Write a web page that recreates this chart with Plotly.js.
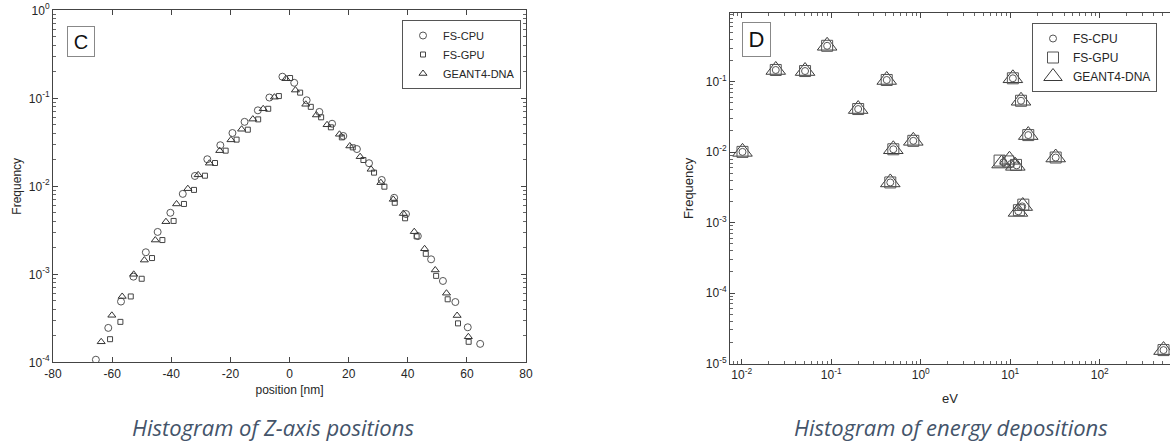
<!DOCTYPE html>
<html>
<head>
<meta charset="utf-8">
<script src="https://cdn.plot.ly/plotly-3.0.1.min.js"></script>
<style>
  html, body { margin: 0; padding: 0; background: #fff; }
  #chart { width: 1170px; height: 444px; }
</style>
</head>
<body>
<div id="chart"></div>
<script>
// ---- Panel C: histogram of Z-axis positions (nm) ----
const posCpu = [-65.5, -61.3, -57.0, -52.8, -48.6, -44.6, -40.3, -36.1, -32.0, -27.8, -23.4, -19.3, -15.2, -10.7, -6.8, -2.4,
                1.6, 5.8, 10.1, 14.4, 18.2, 22.8, 26.9, 31.2, 35.4, 39.4, 43.4, 47.9, 51.9, 56.1, 60.3, 64.5];
const freqPosCpu = [1.07e-4, 2.46e-4, 4.9e-4, 9.4e-4, 1.78e-3, 3.03e-3, 5.0e-3, 8.2e-3, 1.31e-2, 2.03e-2, 2.93e-2, 4.03e-2, 5.4e-2, 7.3e-2, 0.102, 0.176,
                    0.150, 0.095, 0.070, 0.0514, 0.0373, 0.0265, 0.0183, 0.0118, 7.4e-3, 4.84e-3, 2.72e-3, 1.48e-3, 8.4e-4, 4.84e-4, 2.5e-4, 1.62e-4];

const posGpu = [-60.7, -57.2, -53.7, -50.0, -46.5, -43.0, -39.2, -35.7, -32.3, -28.6, -25.2, -21.6, -17.9, -14.1, -10.6, -7.2, -3.6, 0.2,
                3.6, 7.2, 10.7, 14.0, 17.7, 21.4, 25.0, 28.6, 32.1, 35.6, 39.1, 43.0, 46.1, 49.6, 53.5, 57.0, 60.6];
const freqPosGpu = [1.83e-4, 2.88e-4, 5.6e-4, 8.9e-4, 1.53e-3, 2.45e-3, 4.04e-3, 6.3e-3, 9.1e-3, 1.32e-2, 1.84e-2, 2.54e-2, 3.39e-2, 4.4e-2, 5.76e-2, 7.6e-2, 0.106, 0.170,
                    0.116, 0.080, 0.0608, 0.0468, 0.036, 0.0277, 0.0199, 0.0143, 0.0099, 6.5e-3, 4.33e-3, 2.7e-3, 1.71e-3, 9.6e-4, 5.2e-4, 2.77e-4, 1.71e-4];

const posG4 = [-63.7, -60.1, -56.6, -52.7, -49.1, -45.4, -41.8, -38.2, -34.4, -30.9, -27.1, -23.6, -19.8, -16.2, -12.4, -8.9, -5.1, -1.2,
               2.0, 5.5, 9.1, 12.7, 16.9, 20.4, 23.9, 27.6, 30.9, 35.1, 38.5, 42.2, 45.7, 49.3, 53.1, 56.7, 60.5];
const freqPosG4 = [1.71e-4, 3.42e-4, 5.6e-4, 1.0e-3, 1.45e-3, 2.45e-3, 3.96e-3, 6.3e-3, 9.4e-3, 1.35e-2, 1.83e-2, 2.54e-2, 3.37e-2, 4.45e-2, 5.8e-2, 7.6e-2, 0.103, 0.167,
                   0.124, 0.0855, 0.0646, 0.050, 0.039, 0.0287, 0.0217, 0.0156, 0.011, 7.1e-3, 4.9e-3, 3.05e-3, 1.95e-3, 1.12e-3, 6.1e-4, 3.4e-4, 1.95e-4];

// ---- Panel D: histogram of energy depositions (eV) ----
const eVCpu = [0.0102, 0.024, 0.051, 0.090, 0.20, 0.417, 0.494, 0.457, 0.826, 8.4, 10.2, 11.8, 10.7, 12.3, 13.6, 13.2, 15.9, 32.2, 516];
const freqECpu = [0.0101, 0.147, 0.142, 0.324, 0.041, 0.106, 0.011, 3.72e-3, 0.0145, 7.2e-3, 6.8e-3, 6.5e-3, 0.112, 1.45e-3, 1.70e-3, 0.0537, 0.0175, 8.4e-3, 1.55e-5];

const eVGpu = [0.0102, 0.024, 0.051, 0.090, 0.20, 0.417, 0.494, 0.457, 0.826, 7.6, 9.5, 11.6, 10.7, 12.5, 14.0, 13.2, 15.9, 32.2, 516];
const freqEGpu = [0.0101, 0.147, 0.142, 0.324, 0.041, 0.106, 0.011, 3.72e-3, 0.0145, 7.6e-3, 7.4e-3, 6.6e-3, 0.112, 1.50e-3, 1.80e-3, 0.0537, 0.0175, 8.4e-3, 1.55e-5];

const eVG4 = [0.0102, 0.024, 0.051, 0.090, 0.20, 0.417, 0.494, 0.457, 0.826, 8.0, 9.8, 11.4, 10.7, 12.2, 13.8, 13.2, 15.9, 32.2, 516];
const freqEG4 = [0.0101, 0.147, 0.142, 0.324, 0.041, 0.106, 0.011, 3.72e-3, 0.0145, 6.9e-3, 7.8e-3, 6.4e-3, 0.112, 1.42e-3, 1.72e-3, 0.0537, 0.0175, 8.4e-3, 1.55e-5];

const seriesNames = ['FS-CPU', 'FS-GPU', 'GEANT4-DNA'];
const posTicks = [-80, -60, -40, -20, 0, 20, 40, 60, 80];
const freqTicksC = [1, 0.1, 0.01, 0.001, 0.0001];
const freqTicksD = [0.1, 0.01, 0.001, 0.0001, 0.00001];
const eVTicks = [0.01, 0.1, 1, 10, 100];

// label as 10^n with an ordinary hyphen for the sign
function powLabel(v) {
  const e = Math.round(Math.log10(v));
  return '10<sup>' + String(e) + '</sup>';
}
// minor tick positions 2..9 x 10^k for a span of decades
function minorLog(kMin, kMax) {
  const out = [];
  for (let k = kMin; k <= kMax; k++) {
    for (let m = 2; m <= 9; m++) out.push(m * Math.pow(10, k));
  }
  return out;
}

const sans = '"Liberation Sans", Arial, Helvetica, sans-serif';
const axisFont = { family: sans, size: 12, color: '#262626' };

function mk(x, y, name, symbol, size, color, xa, ya, legend, show) {
  return {
    type: 'scatter', mode: 'markers', x: x, y: y, name: name,
    xaxis: xa, yaxis: ya, legend: legend, showlegend: show,
    marker: { symbol: symbol, size: size, color: color, line: { width: 1, color: color } },
    hoverinfo: 'x+y+name'
  };
}

const traces = [
  mk(posCpu, freqPosCpu, seriesNames[0], 'circle-open', 7, '#555', 'x', 'y', 'legend', true),
  mk(posGpu, freqPosGpu, seriesNames[1], 'square-open', 5, '#444', 'x', 'y', 'legend', true),
  mk(posG4, freqPosG4, seriesNames[2], 'triangle-up-open', 7, '#333', 'x', 'y', 'legend', true),
  mk(eVG4, freqEG4, seriesNames[2], 'triangle-up-open', 17, '#3a3a3a', 'x2', 'y2', 'legend2', false),
  mk(eVGpu, freqEGpu, seriesNames[1], 'square-open', 11, '#555', 'x2', 'y2', 'legend2', false),
  mk(eVCpu, freqECpu, seriesNames[0], 'circle-open', 7, '#555', 'x2', 'y2', 'legend2', false),
  // legend entries for panel D in the listed order
  Object.assign(mk([null], [null], seriesNames[0], 'circle-open', 7, '#555', 'x2', 'y2', 'legend2', true), {hoverinfo: 'skip'}),
  Object.assign(mk([null], [null], seriesNames[1], 'square-open', 11, '#555', 'x2', 'y2', 'legend2', true), {hoverinfo: 'skip'}),
  Object.assign(mk([null], [null], seriesNames[2], 'triangle-up-open', 17, '#3a3a3a', 'x2', 'y2', 'legend2', true), {hoverinfo: 'skip'})
];

const baseAxis = {
  showgrid: false, zeroline: false, showline: true, linecolor: '#444', linewidth: 1,
  ticks: 'inside', ticklen: 5, tickcolor: '#444', tickwidth: 1,
  tickfont: axisFont, automargin: false
};

const W = 1170, H = 444;
const layout = {
  width: W, height: H,
  margin: { l: 0, r: 0, t: 0, b: 0 },
  paper_bgcolor: '#ffffff', plot_bgcolor: '#ffffff',
  font: axisFont,
  xaxis: Object.assign({}, baseAxis, {
    domain: [53 / W, 526 / W], range: [-80, 80], anchor: 'y', mirror: 'ticks',
    tickmode: 'array', tickvals: posTicks, ticktext: posTicks.map(String),
    title: { text: 'position [nm]', font: { family: sans, size: 12, color: '#262626' }, standoff: 5 }
  }),
  yaxis: Object.assign({}, baseAxis, {
    domain: [(H - 362.3) / H, (H - 10.3) / H], type: 'log', range: [-4, 0], anchor: 'x', mirror: 'ticks',
    tickmode: 'array', tickvals: freqTicksC, ticktext: freqTicksC.map(powLabel),
    minor: { tickmode: 'array', tickvals: minorLog(-4, -1), ticks: 'inside', ticklen: 3, tickcolor: '#666' },
    title: { text: 'Frequency', font: { family: sans, size: 12, color: '#262626' }, standoff: 4 }
  }),
  xaxis2: Object.assign({}, baseAxis, {
    domain: [730 / W, 1], type: 'log', range: [-2.131, 2.785], anchor: 'y2', mirror: 'ticks',
    tickmode: 'array', tickvals: eVTicks, ticktext: eVTicks.map(powLabel),
    minor: { tickmode: 'array', tickvals: minorLog(-3, 2), ticks: 'inside', ticklen: 3, tickcolor: '#666' },
    title: { text: 'eV', font: { family: sans, size: 13, color: '#262626' }, standoff: 12 }
  }),
  yaxis2: Object.assign({}, baseAxis, {
    domain: [(H - 363.5) / H, (H - 13.3) / H], type: 'log', range: [-5, -0.028], anchor: 'x2', mirror: false,
    tickmode: 'array', tickvals: freqTicksD, ticktext: freqTicksD.map(powLabel),
    minor: { tickmode: 'array', tickvals: minorLog(-5, -1), ticks: 'inside', ticklen: 3, tickcolor: '#666' },
    title: { text: 'Frequency', font: { family: sans, size: 13, color: '#262626' }, standoff: 9 }
  }),
  legend: {
    x: 402 / W, y: (H - 20) / H, xanchor: 'left', yanchor: 'top',
    bgcolor: '#ffffff', bordercolor: '#555', borderwidth: 1,
    font: { family: sans, size: 11, color: '#262626' },
    itemsizing: 'trace', tracegroupgap: 0
  },
  legend2: {
    x: 1032 / W, y: (H - 23) / H, xanchor: 'left', yanchor: 'top',
    bgcolor: '#ffffff', bordercolor: '#555', borderwidth: 1,
    font: { family: sans, size: 12, color: '#262626' },
    itemsizing: 'trace', tracegroupgap: 0
  },
  annotations: [
    { text: 'C', xref: 'paper', yref: 'paper', x: 81 / W, y: (H - 41.5) / H, xanchor: 'center', yanchor: 'middle',
      showarrow: false, font: { family: sans, size: 20, color: '#111' },
      width: 26, height: 29, bordercolor: '#888', borderwidth: 1, borderpad: 0, bgcolor: '#fff' },
    { text: 'D', xref: 'paper', yref: 'paper', x: 756 / W, y: (H - 39.5) / H, xanchor: 'center', yanchor: 'middle',
      showarrow: false, font: { family: sans, size: 22, color: '#111' },
      width: 27, height: 33, bordercolor: '#888', borderwidth: 1, borderpad: 0, bgcolor: '#fff' },
    { text: '<i>Histogram of Z-axis positions</i>', xref: 'paper', yref: 'paper', x: 273 / W, y: (H - 427) / H,
      xanchor: 'center', yanchor: 'middle', showarrow: false,
      font: { family: '"Open Sans", "Noto Sans", sans-serif', size: 22, color: '#44546A' } },
    { text: '<i>Histogram of energy depositions</i>', xref: 'paper', yref: 'paper', x: 951 / W, y: (H - 427) / H,
      xanchor: 'center', yanchor: 'middle', showarrow: false,
      font: { family: '"Open Sans", "Noto Sans", sans-serif', size: 22, color: '#44546A' } }
  ]
};

Plotly.newPlot('chart', traces, layout, { displayModeBar: false, staticPlot: true });
</script>
</body>
</html>
